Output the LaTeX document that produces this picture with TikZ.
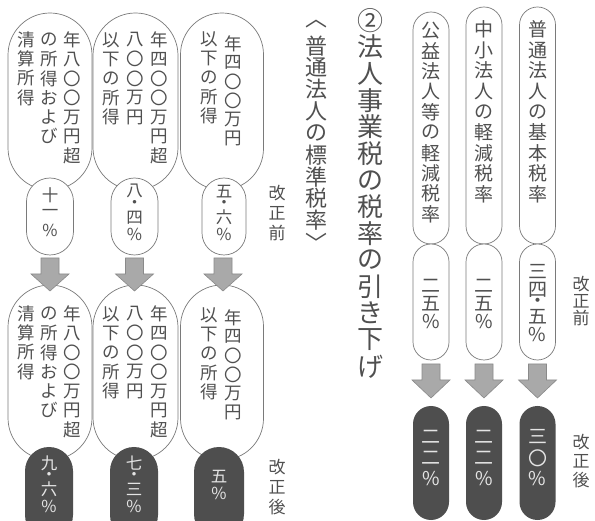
\documentclass[tikz,border=0pt]{standalone}
\usepackage{fontspec}
\setmainfont{Noto Sans CJK JP}
\definecolor{capline}{HTML}{7A7A7A}
\definecolor{txt}{HTML}{505050}
\definecolor{darkfill}{HTML}{4E4E4E}
\definecolor{darktxt}{HTML}{E4E4E4}
\definecolor{arrfill}{HTML}{A9A9A9}
\definecolor{arrline}{HTML}{8A8A8A}

\ExplSyntaxOn
\dim_new:N \l_vt_pitch_dim
\NewDocumentCommand \vt { O{1.2em} m }
 {
  \dim_set:Nn \l_vt_pitch_dim {#1}
  \vbox:n
   {
    \offinterlineskip
    \tl_map_inline:nn {#2}
     {
      \tl_if_eq:nnTF {##1} {・}
       { \hbox_to_wd:nn {1em} { \hss \vbox_to_ht:nn {0.5\l_vt_pitch_dim} { \vss \hbox:n {##1} \vss } \hss } }
       { \hbox_to_wd:nn {1em} { \hss \vbox_to_ht:nn {\l_vt_pitch_dim} { \vss \hbox:n {##1} \vss } \hss } }
     }
   }
 }
\ExplSyntaxOff

\newcommand\grayarrow[3]{% center x, top y, tip y
  \filldraw[arrowshape] (#1-9,#2) -- (#1+9,#2) -- (#1+9,#2+16) -- (#1+19,#2+16)
    -- (#1,#3) -- (#1-19,#2+16) -- (#1-9,#2+16) -- cycle;}

\tikzset{
  capsulebox/.style={draw=capline, line width=0.7pt, fill=white, inner sep=0pt, outer sep=0pt, rectangle},
  darkcapsule/.style={draw=none, fill=darkfill, inner sep=0pt, outer sep=0pt, rectangle},
  arrowshape/.style={fill=arrfill, draw=arrline, line width=0.6pt, line join=miter},
  vtxt/.style={inner sep=0pt, text=txt},
  ltxt/.style={vtxt, font=\fontsize{17.5pt}{20pt}\selectfont},
  ratetxt/.style={vtxt, font=\fontsize{16.5pt}{19pt}\selectfont},
  rtxt/.style={vtxt, font=\fontsize{19pt}{21pt}\selectfont},
  labtxt/.style={vtxt, font=\fontsize{17pt}{19pt}\selectfont},
  dtxt/.style={inner sep=0pt, text=darktxt},
}

\begin{document}
\begin{tikzpicture}[x=1pt, y=-1pt]
\clip (0,0) rectangle (595,521);
\fill[white] (0,0) rectangle (595,521);

% ---------------- right block ----------------
\node[capsulebox, minimum width=36pt, minimum height=232pt, rounded corners=18pt] (r1a) at (431,128) {};
\node[capsulebox, minimum width=36pt, minimum height=237pt, rounded corners=18pt] (r2a) at (484,125.5) {};
\node[capsulebox, minimum width=36pt, minimum height=237pt, rounded corners=18pt] (r3a) at (537.5,125.5) {};
\node[capsulebox, minimum width=36pt, minimum height=116pt, rounded corners=18pt] (r1b) at (431,302) {};
\node[capsulebox, minimum width=36pt, minimum height=116pt, rounded corners=18pt] (r2b) at (484,302) {};
\node[capsulebox, minimum width=36pt, minimum height=116pt, rounded corners=18pt] (r3b) at (537.5,302) {};
\node[darkcapsule, minimum width=36pt, minimum height=114pt, rounded corners=18pt] (r1c) at (431,463) {};
\node[darkcapsule, minimum width=36pt, minimum height=114pt, rounded corners=18pt] (r2c) at (484,463) {};
\node[darkcapsule, minimum width=36pt, minimum height=114pt, rounded corners=18pt] (r3c) at (537.5,463) {};
\grayarrow{431}{364}{398}
\grayarrow{484}{364}{398}
\grayarrow{537.5}{364}{398}

\node[rtxt, anchor=north] (r1t) at (431,20) {\vt[20.4pt]{公益法人等の軽減税率}};
\node[rtxt, anchor=north] (r2t) at (484,19) {\vt[20.6pt]{中小法人の軽減税率}};
\node[rtxt, anchor=north] (r3t) at (537.5,19) {\vt[20.6pt]{普通法人の基本税率}};
\node[rtxt] (r1r) at (431,304) {\vt[18pt]{二五\%}};
\node[rtxt] (r2r) at (484,304) {\vt[18pt]{二五\%}};
\node[rtxt] (r3r) at (537.5,303) {\vt[18pt]{三四・五\%}};
\node[rtxt, dtxt] (r1d) at (431,458) {\vt[21pt]{二二\%}};
\node[rtxt, dtxt] (r2d) at (484,458) {\vt[21pt]{二二\%}};
\node[rtxt, dtxt] (r3d) at (537.5,458) {\vt[21pt]{三〇\%}};
\node[labtxt] (rbefore) at (581,301) {\vt[17pt]{改正前}};
\node[labtxt] (rafter) at (581,461) {\vt[19pt]{改正後}};

% ---------------- titles ----------------
\node[vtxt, anchor=north, font=\fontsize{26pt}{28pt}\selectfont] (title) at (370,7)
  {\vt[26.6pt]{②法人事業税の税率の引き下げ}};
\node[vtxt, anchor=north, font=\fontsize{22pt}{24pt}\selectfont] (subtitle) at (316,13)
  {\vt[21.8pt]{︿普通法人の標準税率﹀}};

% ---------------- left block ----------------
\node[capsulebox, minimum width=84pt, minimum height=177pt, rounded corners=42pt] (l1a) at (50,101.5) {};
\node[capsulebox, minimum width=85pt, minimum height=177pt, rounded corners=42.5pt] (l2a) at (135.5,101.5) {};
\node[capsulebox, minimum width=83pt, minimum height=177pt, rounded corners=41.5pt] (l3a) at (222,101.5) {};
\node[capsulebox, minimum width=47pt, minimum height=77pt, rounded corners=23.5pt] (l1b) at (50,216.5) {};
\node[capsulebox, minimum width=47pt, minimum height=77pt, rounded corners=23.5pt] (l2b) at (134.5,216.5) {};
\node[capsulebox, minimum width=44pt, minimum height=77pt, rounded corners=22pt] (l3b) at (224,216.5) {};
\node[capsulebox, minimum width=84pt, minimum height=175pt, rounded corners=42pt] (l1c) at (50,372.5) {};
\node[capsulebox, minimum width=85pt, minimum height=175pt, rounded corners=42.5pt] (l2c) at (135.5,372.5) {};
\node[capsulebox, minimum width=83pt, minimum height=175pt, rounded corners=41.5pt] (l3c) at (222,372.5) {};
\node[darkcapsule, minimum width=48pt, minimum height=92pt, rounded corners=24pt] (l1d) at (49,493) {};
\node[darkcapsule, minimum width=48pt, minimum height=92pt, rounded corners=24pt] (l2d) at (134,493) {};
\node[darkcapsule, minimum width=50pt, minimum height=92pt, rounded corners=25pt] (l3d) at (219,493) {};
\grayarrow{50}{258}{291}
\grayarrow{134.5}{258}{291}
\grayarrow{223}{258}{291}

% texts in the upper capsules
\node[ltxt, anchor=north] (l1a1) at (72,30) {\vt[19.3pt]{年八〇〇万円超}};
\node[ltxt, anchor=north] (l1a2) at (49,30) {\vt[19.3pt]{の所得および}};
\node[ltxt, anchor=north] (l1a3) at (26,30) {\vt[19.3pt]{清算所得}};
\node[ltxt, anchor=north] (l2a1) at (159,30) {\vt[19.3pt]{年四〇〇万円超}};
\node[ltxt, anchor=north] (l2a2) at (135,30) {\vt[19.3pt]{八〇〇万円}};
\node[ltxt, anchor=north] (l2a3) at (111,30) {\vt[19.3pt]{以下の所得}};
\node[ltxt, anchor=north] (l3a1) at (233,34) {\vt[19pt]{年四〇〇万円}};
\node[ltxt, anchor=north] (l3a2) at (209,30) {\vt[19pt]{以下の所得}};
% texts in the lower capsules
\node[ltxt, anchor=north] (l1c1) at (72,304) {\vt[19.3pt]{年八〇〇万円超}};
\node[ltxt, anchor=north] (l1c2) at (49,304) {\vt[19.3pt]{の所得および}};
\node[ltxt, anchor=north] (l1c3) at (26,304) {\vt[19.3pt]{清算所得}};
\node[ltxt, anchor=north] (l2c1) at (159,304) {\vt[19.3pt]{年四〇〇万円超}};
\node[ltxt, anchor=north] (l2c2) at (135,304) {\vt[19.3pt]{八〇〇万円}};
\node[ltxt, anchor=north] (l2c3) at (111,304) {\vt[19.3pt]{以下の所得}};
\node[ltxt, anchor=north] (l3c1) at (233,308) {\vt[19pt]{年四〇〇万円}};
\node[ltxt, anchor=north] (l3c2) at (209,306) {\vt[19pt]{以下の所得}};
% rates
\node[ratetxt] (l1r) at (50,213) {\vt[17.5pt]{十一\%}};
\node[ratetxt] (l2r) at (134.5,213) {\vt[17.5pt]{八・四\%}};
\node[ratetxt] (l3r) at (224,213) {\vt[17.5pt]{五・六\%}};
\node[ratetxt, dtxt] (l1d1) at (49,485) {\vt[17.5pt]{九・六\%}};
\node[ratetxt, dtxt] (l2d1) at (134,485) {\vt[17.5pt]{七・三\%}};
\node[ratetxt, dtxt] (l3d1) at (219,485) {\vt[17.5pt]{五\%}};
\node[labtxt] (lbefore) at (277,213) {\vt[19.5pt]{改正前}};
\node[labtxt] (lafter) at (277,487) {\vt[20pt]{改正後}};
\end{tikzpicture}
\end{document}
